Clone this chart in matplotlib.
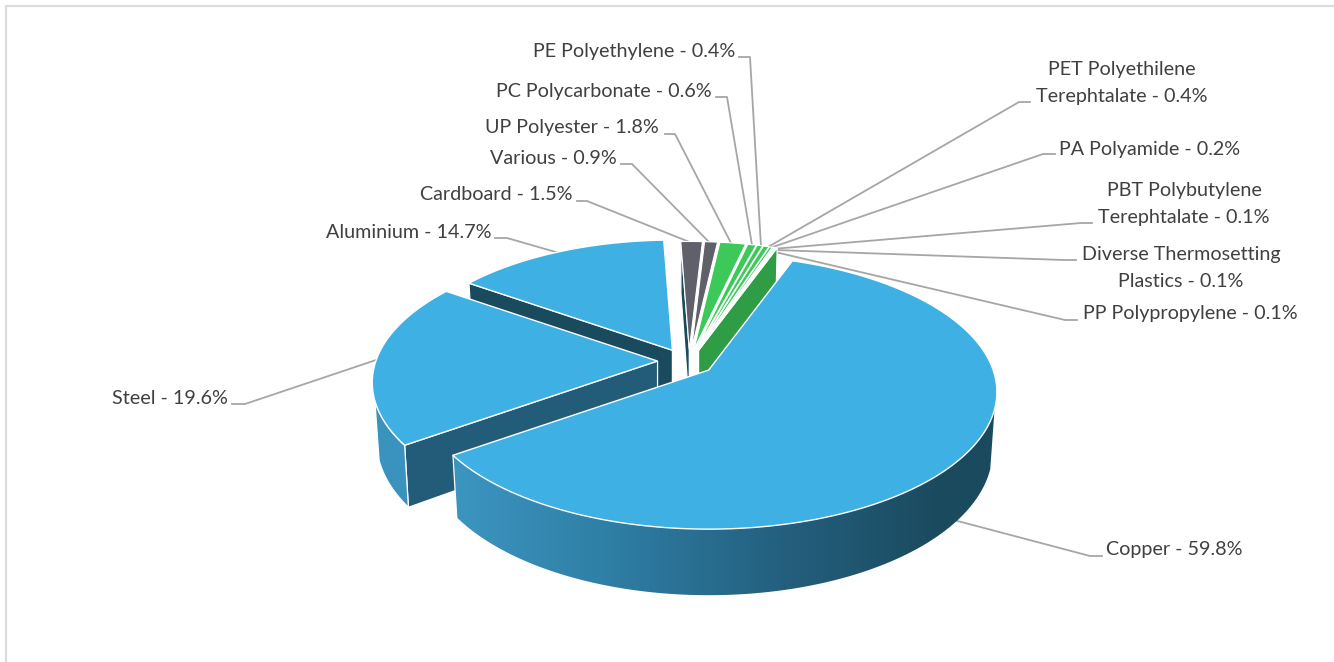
import numpy as np
import matplotlib
matplotlib.use("Agg")
import matplotlib.pyplot as plt
from matplotlib.colors import LinearSegmentedColormap
from matplotlib.patches import Polygon

plt.rcParams["font.family"] = ["Lato", "DejaVu Sans"]

# data
categories = ["Copper", "Steel", "Aluminium", "Cardboard", "Various", "UP Polyester",
              "PC Polycarbonate", "PE Polyethylene", "PET Polyethilene\nTerephtalate",
              "PA Polyamide", "PBT Polybutylene\nTerephtalate",
              "Diverse Thermosetting\nPlastics", "PP Polypropylene"]
values = [59.8, 19.6, 14.7, 1.5, 0.9, 1.8, 0.6, 0.4, 0.4, 0.2, 0.1, 0.1, 0.1]

# slice styles
top_colors = ["#3eb0e4"] * 3 + ["#5f6069"] * 2 + ["#3cc95a"] * 8
radius_scale = [1, 0.99, 0.95] + [0.93] * 10
# small corrections to the plain explode position
nudge = [(0, 0), (0, -1), (0, 0)] + [(3, 1)] * 10

# where each label sits: x, y, ha
label_pos = [(1106, 550, "left"), (228, 399, "right"), (491, 233, "right"), (572, 195, "right"),
             (617, 158, "right"), (659, 128, "right"), (712, 92, "right"), (735, 51, "right"),
             (1122, 83, "center"), (1150, 149, "center"), (1184, 204, "center"),
             (1181, 268, "center"), (1190, 314, "center")]
# leader lines: label end, elbow, slice end
leaders = [[(1102, 556), (1090, 556), (950, 519)],
           [(232, 404), (245, 404), (385, 357)],
           [(495, 238), (507, 238), (580, 259)],
           [(577, 201), (587, 201), (692, 243)],
           [(621, 164), (632, 164), (710, 243)],
           [(665, 134), (675, 134), (732, 245)],
           [(716, 97), (727, 97), (752, 245)],
           [(739, 57), (750, 57), (761, 247)],
           [(1030, 102), (1019, 102), (768, 247)],
           [(1055, 154), (1043, 154), (770, 248)],
           [(1092, 223), (1081, 223), (772, 249)],
           [(1076, 260), (1064, 260), (775, 250)],
           [(1077, 320), (1065, 320), (775, 252)]]

# projection of the tilted pie, in pixels
CX, CY = 686, 362
RX, RY = 284.5, 133.6
PERSP = 0.16
EXPLODE = 0.1
DEPTH = 57.5
BASE = 0.985
RIM_FROM = 0.28  # rim wall starts where the top face stops covering it


def project(ax0, ay0, ang, r=1.0, low=False):
    x = r * np.sin(ang)
    y = -r * np.cos(ang)
    w = 1 / (1 - PERSP * y)
    s = BASE if low else 1
    return ax0 + RX * x * w * s, ay0 + RY * y * w * s + (DEPTH * w if low else 0)


fig = plt.figure(figsize=(13.34, 6.62), dpi=100)
ax = fig.add_axes([0, 0, 1, 1])

# outer frame of the chart
ax.plot([6, 6, 1334], [662, 6, 6], color="#dcdcdc", lw=1.6, zorder=1)

for pts in leaders:
    xs, ys = zip(*pts)
    ax.plot(xs, ys, color="#a6a6a6", lw=1.3, zorder=2, solid_joinstyle="round")

for name, v, (tx, ty, ha) in zip(categories, values, label_pos):
    ax.text(tx, ty, f"{name} - {v}%", ha=ha, va="center", fontsize=14.2, color="#404040",
            linespacing=1.65, zorder=3)

grad = LinearSegmentedColormap.from_list(
    "rim", [(0, "#3c96c1"), (0.28, "#2f7fa6"), (0.6, "#24607f"), (0.9, "#1a4a5e"), (1, "#1a4a5e")])

angles = np.cumsum([0] + values) / sum(values) * 2 * np.pi + np.radians(19.8)
# big back slices first, copper last
draw_order = [2, 3, 4, 5, 6, 7, 8, 9, 10, 11, 12, 1, 0]
z = 5
for i in draw_order:
    a0, a1 = angles[i], angles[i + 1]
    mid = (a0 + a1) / 2
    ox = CX + EXPLODE * RX * np.sin(mid) + nudge[i][0]
    oy = CY - EXPLODE * RY * np.cos(mid) + nudge[i][1]
    r = radius_scale[i]
    arc = np.linspace(a0, a1, max(int(np.degrees(a1 - a0)) * 2, 6))
    tx, ty = project(ox, oy, arc, r)

    # cut walls
    def cut(ang, color):
        rim_x, rim_y = project(ox, oy, ang, r)
        lo_x, lo_y = project(ox, oy, ang, r, low=True)
        cx2, cy2 = project(ox, oy, ang, 0, low=True)
        ax.add_patch(Polygon([(ox, oy), (rim_x, rim_y), (lo_x, lo_y), (cx2, cy2)], fc=color,
                             ec="white", lw=0.9, zorder=z))

    if i == 1:
        cut(a0, "#235c78")
    if i == 2 or i == 3:
        cut(a0, "#1a4a5e")
    if i == 12:
        cut(a1, "#2f9c46")

    # outer rim, only the part that shows under the top face
    if i < 2:
        vis = arc[-np.cos(arc) >= RIM_FROM]
        ux, uy = project(ox, oy, vis, r)
        lx, ly = project(ox, oy, vis, r, low=True)
        poly = np.r_[np.c_[ux, uy], np.c_[lx, ly][::-1]]
        if i == 0:
            im = ax.imshow(np.linspace(0, 1, 256)[None, :], cmap=grad, aspect="auto",
                           extent=[ux.min() - 2, ux.max() + 2, 662, 0], zorder=z)
            im.set_clip_path(Polygon(poly, transform=ax.transData))
            ax.plot([ux[-1], lx[-1]], [uy[-1], ly[-1]], color="white", lw=0.9, zorder=z)
        else:
            ax.add_patch(Polygon(poly, fc="#3a93bf", ec="white", lw=0.9, zorder=z))

    ax.add_patch(Polygon(np.r_[[[ox, oy]], np.c_[tx, ty]], fc=top_colors[i], ec="white",
                         lw=1.0 if i < 3 else 0.8, zorder=z + 0.5, joinstyle="miter"))
    z += 1

ax.set_xlim(0, 1334)
ax.set_ylim(662, 0)
ax.axis("off")
fig.savefig("out.png", dpi=100)
